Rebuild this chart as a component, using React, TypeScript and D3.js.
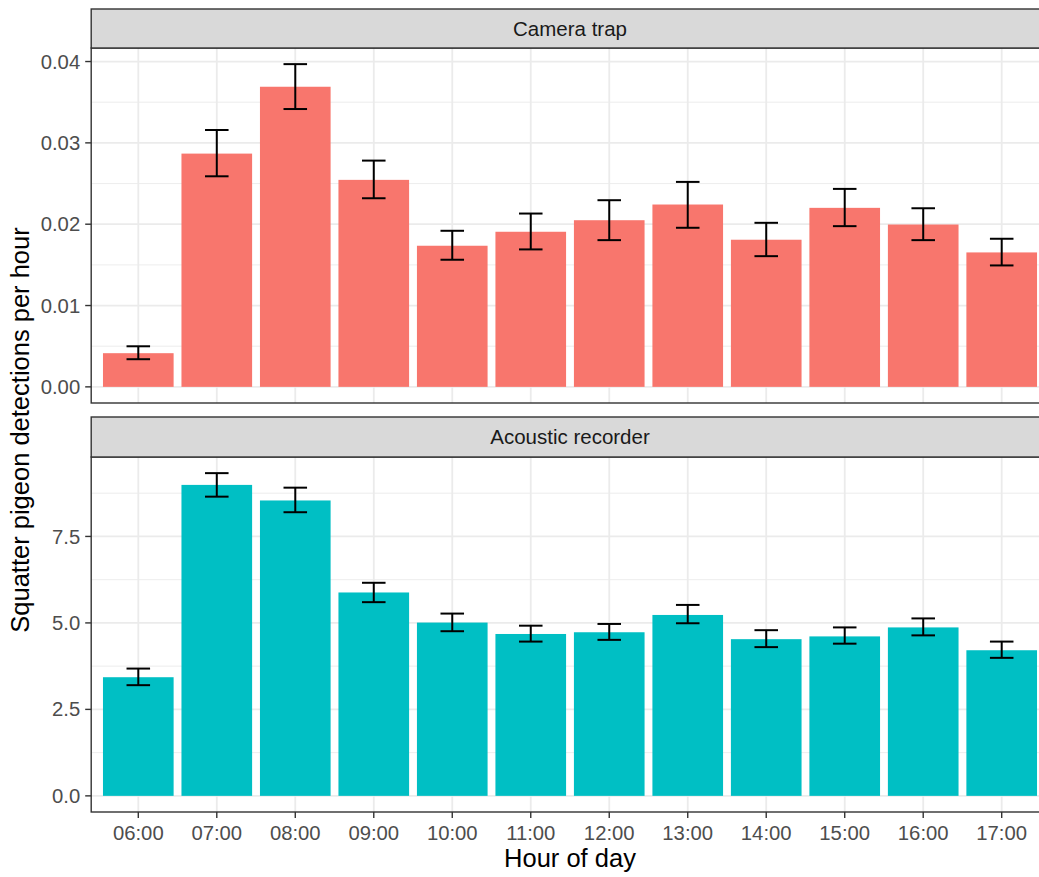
import React from "react";
import * as d3 from "d3";

const hours = ["06:00","07:00","08:00","09:00","10:00","11:00","12:00","13:00","14:00","15:00","16:00","17:00"];

const cameraMean = [0.00414,0.02868,0.0369,0.02545,0.01735,0.01907,0.02049,0.02242,0.01809,0.02201,0.01996,0.01653];
const cameraLow  = [0.0034,0.02589,0.03416,0.02319,0.01563,0.0169,0.01804,0.01956,0.01607,0.01976,0.01804,0.01493];
const cameraHigh = [0.00499,0.03158,0.03968,0.02782,0.01919,0.02131,0.02295,0.0252,0.02017,0.02434,0.02196,0.01821];

const acousticMean = [3.43,8.99,8.54,5.88,5.01,4.68,4.73,5.23,4.53,4.61,4.87,4.21];
const acousticLow  = [3.2,8.65,8.2,5.6,4.76,4.46,4.51,4.99,4.3,4.4,4.64,3.99];
const acousticHigh = [3.68,9.33,8.91,6.16,5.27,4.92,4.97,5.52,4.79,4.87,5.13,4.46];

const cameraTicks = [0, 0.01, 0.02, 0.03, 0.04];
const acousticTicks = [0, 2.5, 5, 7.5];

const W = 1039, H = 877;
const FONT = "'Liberation Sans', Arial, Helvetica, sans-serif";

const panelLeft = 91.2, panelRight = 1048.8;

type PanelProps = {
  title: string; stripTop: number; stripBottom: number; bottom: number;
  mean: number[]; low: number[]; high: number[]; ticks: number[];
  fmt: (v: number) => string; color: string; showX: boolean;
};

const x = d3.scalePoint<string>().domain(hours).range([panelLeft, panelRight]).padding(0.6);
const step = x.step();

function Panel(p: PanelProps) {
  const maxV = d3.max(p.high) as number;
  const ex = maxV * 0.05;
  const y = d3.scaleLinear().domain([-ex, maxV + ex]).range([p.bottom, p.stripBottom]);
  const tstep = p.ticks[1] - p.ticks[0];
  const minor = p.ticks.map(t => t + tstep / 2).filter(v => v < maxV + ex);
  const barW = step * 0.9;
  const capW = step * 0.3;
  return (
    <g>
      <rect x={panelLeft} y={p.stripBottom} width={panelRight - panelLeft} height={p.bottom - p.stripBottom} fill="#ffffff" />
      {minor.map((m, i) => (
        <line key={"mn" + i} x1={panelLeft} x2={panelRight} y1={y(m)} y2={y(m)} stroke="#EBEBEB" strokeWidth={0.9} />
      ))}
      {p.ticks.map((t, i) => (
        <line key={"mj" + i} x1={panelLeft} x2={panelRight} y1={y(t)} y2={y(t)} stroke="#EBEBEB" strokeWidth={1.8} />
      ))}
      {hours.map(h => (
        <line key={"vx" + h} x1={x(h)} x2={x(h)} y1={p.stripBottom} y2={p.bottom} stroke="#EBEBEB" strokeWidth={1.8} />
      ))}
      {hours.map((h, i) => (
        <rect key={"b" + h} x={(x(h) as number) - barW / 2} width={barW} y={y(p.mean[i])} height={y(0) - y(p.mean[i])} fill={p.color} />
      ))}
      {hours.map((h, i) => {
        const cx = x(h) as number;
        return (
          <g key={"e" + h} stroke="#000" strokeWidth={2}>
            <line x1={cx} x2={cx} y1={y(p.high[i])} y2={y(p.low[i])} />
            <line x1={cx - capW / 2} x2={cx + capW / 2} y1={y(p.high[i])} y2={y(p.high[i])} />
            <line x1={cx - capW / 2} x2={cx + capW / 2} y1={y(p.low[i])} y2={y(p.low[i])} />
          </g>
        );
      })}
      <rect x={panelLeft} y={p.stripBottom} width={panelRight - panelLeft} height={p.bottom - p.stripBottom} fill="none" stroke="#333333" strokeWidth={1.4} />
      <rect x={panelLeft} y={p.stripTop} width={panelRight - panelLeft} height={p.stripBottom - p.stripTop} fill="#D9D9D9" stroke="#333333" strokeWidth={1.4} />
      <text x={(panelLeft + panelRight) / 2} y={(p.stripTop + p.stripBottom) / 2} dy="0.35em" textAnchor="middle" fontSize={20.5} fill="#1A1A1A" fontFamily={FONT}>{p.title}</text>
      {p.ticks.map((t, i) => (
        <g key={"yt" + i}>
          <line x1={panelLeft - 6} x2={panelLeft} y1={y(t)} y2={y(t)} stroke="#333333" strokeWidth={1.4} />
          <text x={panelLeft - 11} y={y(t)} dy="0.35em" textAnchor="end" fontSize={20.3} fill="#4D4D4D" fontFamily={FONT}>{p.fmt(t)}</text>
        </g>
      ))}
      {p.showX && hours.map(h => (
        <g key={"xt" + h}>
          <line x1={x(h)} x2={x(h)} y1={p.bottom} y2={p.bottom + 6} stroke="#333333" strokeWidth={1.4} />
          <text x={x(h)} y={p.bottom + 27.5} textAnchor="middle" fontSize={20.3} fill="#4D4D4D" fontFamily={FONT}>{h}</text>
        </g>
      ))}
    </g>
  );
}

export default function App() {
  return (
    <svg width={W} height={H} style={{ position: "absolute", left: 0, top: 0, background: "#fff" }}>
      <rect x={0} y={0} width={W} height={H} fill="#ffffff" />
      <Panel title="Camera trap" stripTop={9} stripBottom={48} bottom={403}
        mean={cameraMean} low={cameraLow} high={cameraHigh} ticks={cameraTicks}
        fmt={d3.format(".2f")} color="#F8766D" showX={false} />
      <Panel title="Acoustic recorder" stripTop={417} stripBottom={457} bottom={812}
        mean={acousticMean} low={acousticLow} high={acousticHigh} ticks={acousticTicks}
        fmt={d3.format(".1f")} color="#00BFC4" showX={true} />
      <text x={570} y={867} textAnchor="middle" fontSize={25.5} fill="#000" fontFamily={FONT}>Hour of day</text>
      <text transform="translate(29,430) rotate(-90)" textAnchor="middle" fontSize={25.5} fill="#000" fontFamily={FONT}>Squatter pigeon detections per hour</text>
    </svg>
  );
}
